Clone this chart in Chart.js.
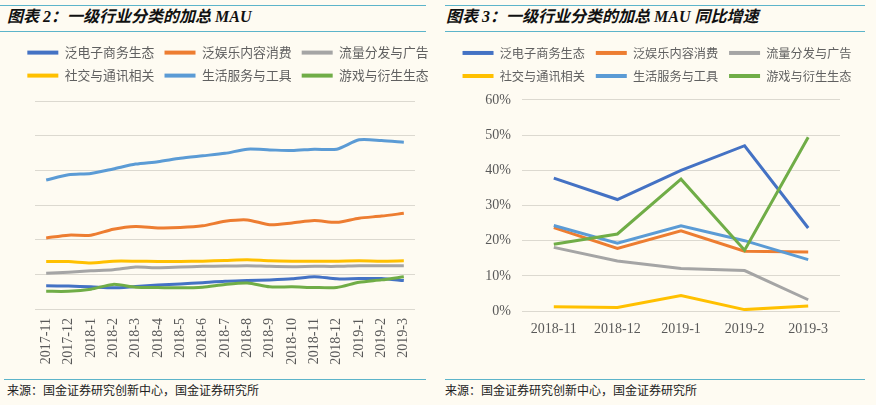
<!DOCTYPE html>
<html>
<head>
<meta charset="utf-8">
<script src="https://cdn.jsdelivr.net/npm/chart.js@4.4.1/dist/chart.umd.min.js"></script>
<style>
  body { margin: 0; width: 876px; height: 405px; background: #fefbf2; position: relative; overflow: hidden; font-family: "Noto Sans CJK SC", sans-serif; }
  .rule { position: absolute; height: 1px; background: #5cb4ca; }
  .title { position: absolute; top: 7px; line-height: 20px; font-size: 16px; font-weight: bold; font-style: italic; font-family: "Liberation Serif", "Noto Sans CJK SC", serif; color: #111; white-space: nowrap; }
  .src { position: absolute; top: 382px; line-height: 16px; font-size: 12px; color: #222; white-space: nowrap; }
  .box { position: absolute; }
</style>
</head>
<body>
<div class="rule" style="left:0;width:426px;top:5px"></div>
<div class="rule" style="left:0;width:426px;top:31px"></div>
<div class="rule" style="left:445px;width:420px;top:5px"></div>
<div class="rule" style="left:445px;width:420px;top:31px"></div>
<div class="title" style="left:7px">图表 2：一级行业分类的加总 MAU</div>
<div class="title" style="left:446px">图表 3：一级行业分类的加总 MAU 同比增速</div>

<div class="box" style="left:0;top:36px;width:456px;height:337px"><canvas id="mauChart"></canvas></div>
<div class="box" style="left:438px;top:36px;width:438px;height:315px"><canvas id="yoyChart"></canvas></div>

<div class="rule" style="left:4px;width:422px;top:379px"></div>
<div class="rule" style="left:445px;width:420px;top:379px"></div>
<div class="src" style="left:7px">来源：国金证券研究创新中心，国金证券研究所</div>
<div class="src" style="left:445px">来源：国金证券研究创新中心，国金证券研究所</div>

<script>
const seriesNames = ['泛电子商务生态', '泛娱乐内容消费', '流量分发与广告', '社交与通讯相关', '生活服务与工具', '游戏与衍生生态'];
const colors = ['#4472c4', '#ed7d31', '#a5a5a5', '#ffc000', '#5b9bd5', '#70ad47'];

// 图表2 月份
const months = ['2017-11', '2017-12', '2018-1', '2018-2', '2018-3', '2018-4', '2018-5', '2018-6', '2018-7',
  '2018-8', '2018-9', '2018-10', '2018-11', '2018-12', '2019-1', '2019-2', '2019-3'];
// 加总MAU（刻度未标注，按网格单位读取）
const mauEcom    = [0.67, 0.66, 0.64, 0.61, 0.65, 0.69, 0.72, 0.76, 0.80, 0.82, 0.84, 0.87, 0.93, 0.87, 0.88, 0.88, 0.82];
const mauEnt     = [2.05, 2.13, 2.13, 2.30, 2.38, 2.34, 2.35, 2.40, 2.53, 2.57, 2.43, 2.48, 2.55, 2.50, 2.62, 2.68, 2.76];
const mauTraffic = [1.03, 1.06, 1.10, 1.13, 1.21, 1.19, 1.21, 1.23, 1.24, 1.25, 1.23, 1.22, 1.23, 1.23, 1.25, 1.25, 1.25];
const mauSocial  = [1.37, 1.37, 1.33, 1.38, 1.38, 1.37, 1.37, 1.38, 1.40, 1.42, 1.39, 1.38, 1.38, 1.38, 1.39, 1.38, 1.39];
const mauLife    = [3.72, 3.87, 3.91, 4.04, 4.18, 4.25, 4.35, 4.42, 4.49, 4.61, 4.59, 4.57, 4.61, 4.61, 4.88, 4.86, 4.81];
const mauGame    = [0.51, 0.51, 0.57, 0.71, 0.63, 0.62, 0.61, 0.63, 0.71, 0.75, 0.64, 0.64, 0.62, 0.62, 0.77, 0.84, 0.93];

// 图表3 同比增速（%）
const yoyMonths = ['2018-11', '2018-12', '2019-1', '2019-2', '2019-3'];
const yoyEcom    = [37.8, 31.7, 40.0, 47.0, 23.6];
const yoyEnt     = [23.7, 17.8, 22.8, 17.0, 16.8];
const yoyTraffic = [18.1, 14.2, 12.1, 11.5, 3.2];
const yoySocial  = [1.2, 1.0, 4.4, 0.4, 1.4];
const yoyLife    = [24.3, 19.3, 24.2, 20.0, 14.6];
const yoyGame    = [19.0, 21.9, 37.5, 17.3, 49.4];

const textColor = '#595959';
const gridColor = '#dcd9d0';
const tickFont = { family: 'Liberation Serif', size: 14 };

function makeSets(rows, tension) {
  return seriesNames.map((name, i) => ({
    label: name,
    data: rows[i],
    borderColor: colors[i],
    backgroundColor: colors[i],
    borderWidth: 3,
    pointRadius: 0,
    tension: tension,
    order: 5 - i
  }));
}

function legendOpts(size, padding) {
  return {
    position: 'top',
    labels: {
      boxWidth: 31,
      boxHeight: 4,
      padding: padding,
      color: '#606060',
      font: { family: 'Noto Sans CJK SC', size: size },
      sort: (a, b) => a.datasetIndex - b.datasetIndex,
      generateLabels: (chart) => Chart.defaults.plugins.legend.labels.generateLabels(chart)
        .map(l => Object.assign(l, { lineWidth: 0 }))
    }
  };
}

// 图例与绘图区之间留空
const legendGap = {
  id: 'legendGap',
  beforeInit(chart, args, opts) {
    const fit = chart.legend.fit;
    chart.legend.fit = function () {
      fit.call(this);
      this.height += opts.gap;
    };
  }
};

const spacer = (w) => ({
  position: 'right',
  display: true,
  grid: { display: false, drawTicks: false },
  ticks: { display: false },
  border: { display: false },
  afterFit: s => { s.width = w; }
});

new Chart(document.getElementById('mauChart'), {
  type: 'line',
  data: {
    labels: months,
    datasets: makeSets([mauEcom, mauEnt, mauTraffic, mauSocial, mauLife, mauGame], 0.25)
  },
  plugins: [legendGap],
  options: {
    responsive: true,
    maintainAspectRatio: false,
    animation: false,
    layout: { padding: 0 },
    plugins: {
      legend: legendOpts(12.8, 10.2),
      legendGap: { gap: 9 },
      tooltip: { enabled: false }
    },
    scales: {
      x: {
        offset: true,
        grid: { display: false, drawTicks: false },
        border: { display: false },
        ticks: { autoSkip: false, minRotation: 90, maxRotation: 90, padding: 9, color: textColor, font: tickFont },
        afterFit: s => { s.height = 64; }
      },
      y: {
        min: 0,
        max: 6,
        ticks: { display: false, stepSize: 1 },
        grid: { color: gridColor, drawTicks: false },
        border: { display: false },
        afterFit: s => { s.width = 35; }
      },
      y2: spacer(41)
    }
  }
});

new Chart(document.getElementById('yoyChart'), {
  type: 'line',
  data: {
    labels: yoyMonths,
    datasets: makeSets([yoyEcom, yoyEnt, yoyTraffic, yoySocial, yoyLife, yoyGame], 0)
  },
  plugins: [legendGap],
  options: {
    responsive: true,
    maintainAspectRatio: false,
    animation: false,
    layout: { padding: 0 },
    plugins: {
      legend: legendOpts(12.2, 10.85),
      legendGap: { gap: 7.9 },
      tooltip: { enabled: false }
    },
    scales: {
      x: {
        offset: true,
        grid: { display: false, drawTicks: false },
        border: { display: false },
        ticks: { padding: 10, color: textColor, font: tickFont },
        afterFit: s => { s.height = 40; }
      },
      y: {
        min: 0,
        max: 60,
        ticks: { stepSize: 10, padding: 11, color: textColor, font: tickFont, callback: v => v + '%' },
        grid: { color: gridColor, drawTicks: false },
        border: { display: false },
        afterFit: s => { s.width = 84; }
      },
      y2: spacer(36)
    }
  }
});
</script>
</body>
</html>
